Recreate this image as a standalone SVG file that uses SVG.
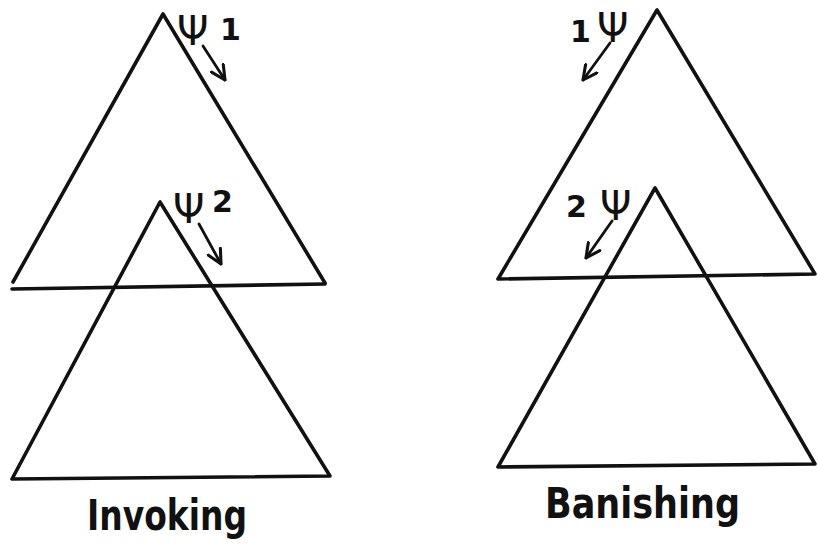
<svg xmlns="http://www.w3.org/2000/svg" width="818" height="546" viewBox="0 0 818 546">
<style>
.tri{fill:none;stroke:#111;stroke-width:3.6;stroke-linejoin:round;stroke-linecap:round}
.arr{fill:none;stroke:#111;stroke-width:2.8;stroke-linecap:round}
.psi{font-family:"DejaVu Sans",sans-serif;font-size:40px;fill:#111}
.num{font-family:"DejaVu Sans",sans-serif;font-size:30px;font-weight:bold;fill:#111}
.lbl{font-family:"DejaVu Sans Condensed","DejaVu Sans",sans-serif;font-size:42px;font-weight:bold;fill:#111}
</style>
<defs>
<marker id="ah" viewBox="0 0 12 12" refX="11" refY="6" markerWidth="6" markerHeight="6" orient="auto" markerUnits="strokeWidth">
<path d="M1,1 L11,6 L1,11" fill="none" stroke="#111" stroke-width="2.2" stroke-linecap="round" stroke-linejoin="round"/>
</marker>
</defs>
<rect width="818" height="546" fill="#fff"/>
<g id="invoke-top">
<path class="tri" d="M13,282 L163,14 L325,283"/>
<path class="tri" d="M12,289 L325,284"/>
</g>
<g id="invoke-bottom">
<path class="tri" d="M160,202 L12,479 L330,476 Z"/>
</g>
<g id="banish-top">
<path class="tri" d="M657,10 L498,279 L815,274 Z"/>
</g>
<g id="banish-bottom">
<path class="tri" d="M655,188 L498,467 L815,464 Z"/>
</g>
<g id="marks">
<text class="psi" x="177" y="45">Ψ</text>
<text class="num" x="220" y="40">1</text>
<text class="psi" x="173" y="223">Ψ</text>
<text class="num" x="212" y="212">2</text>
<text class="num" x="570" y="42">1</text>
<text class="psi" x="597" y="42">Ψ</text>
<text class="num" x="566" y="217">2</text>
<text class="psi" x="600" y="220">Ψ</text>
</g>
<g id="connectors">
<path class="arr" d="M203,46 L225,80" marker-end="url(#ah)"/>
<path class="arr" d="M199,224 L221,264" marker-end="url(#ah)"/>
<path class="arr" d="M610,43 L583,80" marker-end="url(#ah)"/>
<path class="arr" d="M612,221 L586,258" marker-end="url(#ah)"/>
</g>
<g id="labels">
<text class="lbl" x="87" y="530" textLength="160" lengthAdjust="spacingAndGlyphs">Invoking</text>
<text class="lbl" x="545" y="518" textLength="195" lengthAdjust="spacingAndGlyphs">Banishing</text>
</g>
</svg>
